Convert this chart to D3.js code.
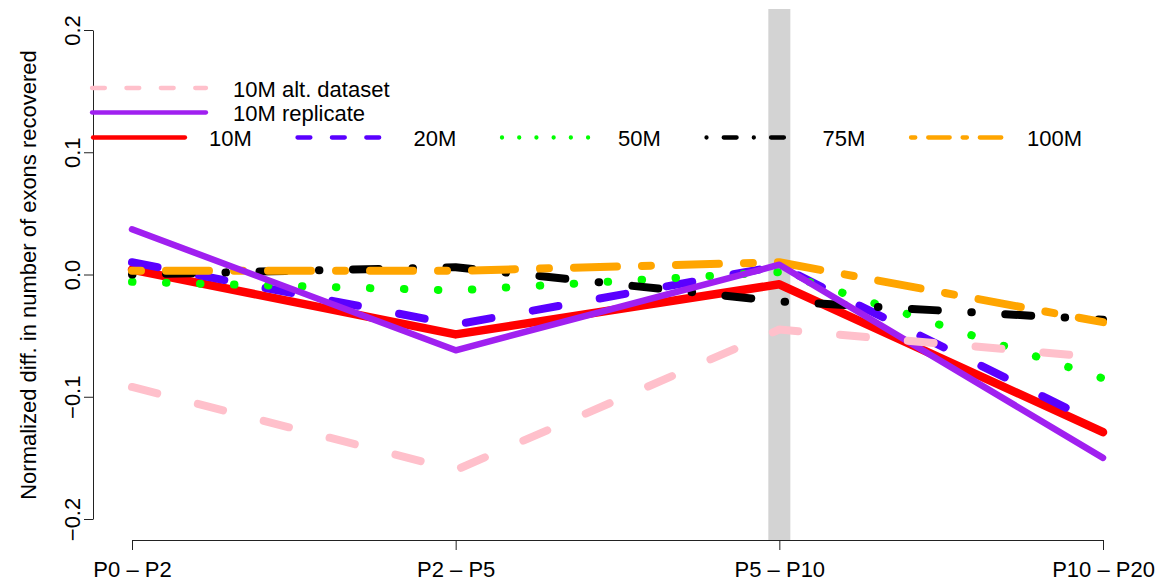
<!DOCTYPE html>
<html>
<head>
<meta charset="utf-8">
<script src="https://cdn.jsdelivr.net/npm/d3@7"></script>
<style>
  body { margin: 0; background: #fff; }
  text { font-family: "Liberation Sans", Arial, sans-serif; }
</style>
</head>
<body>
<div id="chart"></div>
<script>
// values
var categories = ["P0 – P2", "P2 – P5", "P5 – P10", "P10 – P20"];
var yTicks = [-0.2, -0.1, 0, 0.1, 0.2];
var highlight = "P5 – P10";

var depth10M  = [0.004, -0.049, -0.008, -0.129];
var depth20M  = [0.010, -0.041,  0.007, -0.124];
var depth50M  = [-0.006, -0.013, 0.002, -0.085];
var depth75M  = [0.000,  0.006, -0.022, -0.037];
var depth100M = [0.003,  0.003,  0.010, -0.039];
var replicate10M = [0.037, -0.062, 0.008, -0.150];
var altData10M   = [-0.092, -0.160, -0.045, -0.068];

var series = [
  {name: "10M", values: depth10M},
  {name: "20M", values: depth20M},
  {name: "50M", values: depth50M},
  {name: "75M", values: depth75M},
  {name: "100M", values: depth100M},
  {name: "10M replicate", values: replicate10M},
  {name: "10M alt. dataset", values: altData10M}
];

// R style line types: lty patterns in units of lwd
var styles = {
  "10M": {color: "#FF0000", lty: null, w: 8.5},
  "20M": {color: "#5A00FF", lty: [4, 4], w: 8},
  "50M": {color: "#00FF00", lty: [1, 3], w: 8},
  "75M": {color: "#000000", lty: [1, 3, 4, 3], w: 8},
  "100M": {color: "#FFA500", lty: [2, 2, 6, 2], w: 8},
  "10M replicate": {color: "#A020F0", lty: null, w: 6.5},
  "10M alt. dataset": {color: "#FFC0CB", lty: [4, 4], w: 8}
};

function dash(lty, u, w) {
  if (!lty) return null;
  return lty.map(function(n, i) {
    return i % 2 == 0 ? Math.max(n * u - w, 0.01) : n * u + w;
  }).join(",");
}

var svg = d3.select("#chart").append("svg").attr("width", 1159).attr("height", 582);

var x = d3.scalePoint().domain(categories).range([132, 1103]);
var y = d3.scaleLinear().domain([-0.2, 0.2]).range([519, 30]);

// grey marker behind P5 - P10
svg.append("rect")
  .attr("x", x(highlight) - 11).attr("y", 9)
  .attr("width", 22).attr("height", 531)
  .attr("fill", "#D3D3D3");

var line = d3.line()
  .x(function(d, i) { return x(categories[i]); })
  .y(function(d) { return y(d); });

svg.selectAll(".series")
  .data(series)
  .enter().append("path")
  .attr("class", "series")
  .attr("d", function(d) { return line(d.values); })
  .attr("fill", "none")
  .attr("stroke", function(d) { return styles[d.name].color; })
  .attr("stroke-width", function(d) { return styles[d.name].w; })
  .attr("stroke-dasharray", function(d) { var s = styles[d.name]; return dash(s.lty, 8.5, s.w); })
  .attr("stroke-linecap", "round")
  .attr("stroke-linejoin", "round");

// axes
var yAxis = svg.append("g")
  .attr("transform", "translate(93,0)")
  .call(d3.axisLeft(y).tickValues(yTicks).tickFormat(d3.format(".1f")).tickSize(9).tickSizeOuter(0));
yAxis.attr("font-size", 22).attr("font-family", null);
yAxis.selectAll("path, line").attr("stroke", "#222");
yAxis.selectAll("text")
  .attr("transform", "rotate(-90)")
  .attr("x", 0).attr("y", -13).attr("dy", null)
  .attr("text-anchor", "middle")
  .attr("fill", "#000");

var xAxis = svg.append("g")
  .attr("transform", "translate(0,540)")
  .call(d3.axisBottom(x).tickSize(10).tickSizeOuter(0));
xAxis.attr("font-size", 22).attr("font-family", null);
xAxis.selectAll("path, line").attr("stroke", "#222");
xAxis.selectAll("text").attr("y", 37).attr("dy", null).attr("fill", "#000");

svg.append("text")
  .attr("transform", "translate(36,275) rotate(-90)")
  .attr("text-anchor", "middle")
  .attr("font-size", 22)
  .text("Normalized diff. in number of exons recovered");

// legend, two stacked rows then one horizontal row
var lwdLeg = 4.3;
function legendItem(name, x0, len, ly, tx) {
  var s = styles[name];
  svg.append("line")
    .attr("x1", x0).attr("x2", x0 + len).attr("y1", ly).attr("y2", ly)
    .attr("stroke", s.color).attr("stroke-width", lwdLeg)
    .attr("stroke-dasharray", dash(s.lty, lwdLeg, lwdLeg))
    .attr("stroke-linecap", "round");
  svg.append("text")
    .attr("x", tx).attr("y", ly + 8.5)
    .attr("font-size", 22)
    .text(name);
}

legendItem("10M alt. dataset", 92, 114, 88, 233);
legendItem("10M replicate", 92, 114, 112.5, 233);
["10M", "20M", "50M", "75M", "100M"].forEach(function(n, i) {
  var x0 = 93 + i * 204.5;
  legendItem(n, x0, 92, 137.5, x0 + 116);
});
</script>
</body>
</html>
